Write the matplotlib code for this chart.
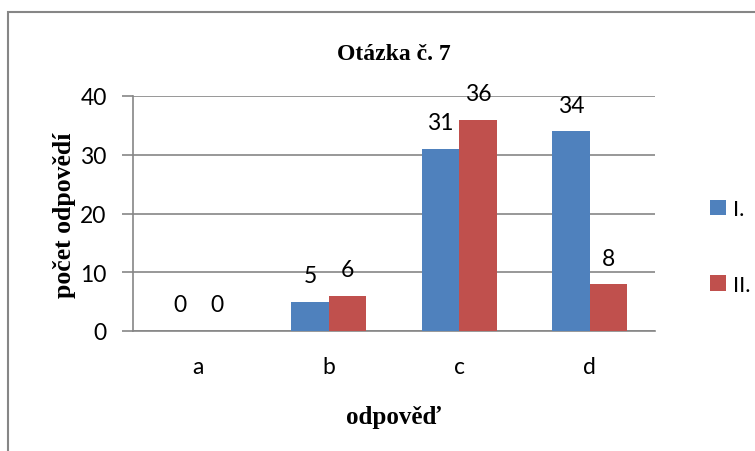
import matplotlib.pyplot as plt
import numpy as np
from matplotlib.patches import Rectangle

# data
categories = ["a", "b", "c", "d"]
series_names = ["I.", "II."]
values_I = [0, 5, 31, 34]
values_II = [0, 6, 36, 8]

blue = "#4F81BD"
red = "#C0504D"
grey = "#868686"
tick_font = "Lato"
serif_font = "Liberation Serif"
fs = 16.5

fig = plt.figure(figsize=(7.55, 4.52), dpi=100)
ax = fig.add_axes([133 / 755, 1 - 332 / 452, 522 / 755, 235 / 452])

x = np.arange(len(categories))
w = 1 / 3.5
b1 = ax.bar(x - w / 2, values_I, w, color=blue, label=series_names[0], zorder=3)
b2 = ax.bar(x + w / 2, values_II, w, color=red, label=series_names[1], zorder=3)

# value labels
for bars in (b1, b2):
    for rect in bars:
        h = rect.get_height()
        ax.annotate(f"{h:.0f}", (rect.get_x() + rect.get_width() / 2, h),
                    xytext=(0, 26), textcoords="offset pixels",
                    ha="center", va="center", fontsize=fs, family=tick_font)

ax.set_xlim(-0.5, 3.5)
ax.set_ylim(0, 40)
ax.set_yticks([0, 10, 20, 30, 40])
ax.set_xticks(x)
ax.set_xticklabels(categories)
ax.yaxis.grid(True, color=grey, linewidth=1.2, zorder=0)
ax.set_axisbelow(True)

for s in ("top", "right"):
    ax.spines[s].set_visible(False)
for s in ("left", "bottom"):
    ax.spines[s].set_color(grey)
    ax.spines[s].set_linewidth(1.2)

ax.tick_params(axis="y", length=8, color=grey, width=1.2, pad=11)
ax.tick_params(axis="x", length=0, pad=18)
for lab in ax.get_xticklabels() + ax.get_yticklabels():
    lab.set_family(tick_font)
    lab.set_fontsize(fs)

# axis titles and chart title
fig.text(64 / 755, 1 - 215 / 452, "počet odpovědí", family=serif_font, fontweight="bold",
         fontsize=18.5, rotation=90, ha="center", va="center")
fig.text(394 / 755, 1 - 418 / 452, "odpověď", family=serif_font, fontweight="bold",
         fontsize=18, ha="center", va="center")
fig.text(394 / 755, 1 - 54 / 452, "Otázka č. 7", family=serif_font, fontweight="bold",
         fontsize=17, ha="center", va="center")

leg = fig.legend(handles=[b1, b2], loc="center left", bbox_to_anchor=(690 / 755, 1 - 248 / 452),
                 frameon=False, handlelength=0.7, handleheight=0.7, handletextpad=0.35,
                 labelspacing=2.5, prop={"family": tick_font, "size": 16})

# chart border
fig.patches.append(Rectangle((8 / 755, -0.1), 1.1, 1 - 13 / 452 + 0.1, transform=fig.transFigure,
                             fill=False, edgecolor=grey, linewidth=1.5))

fig.savefig("out.png", dpi=100)
